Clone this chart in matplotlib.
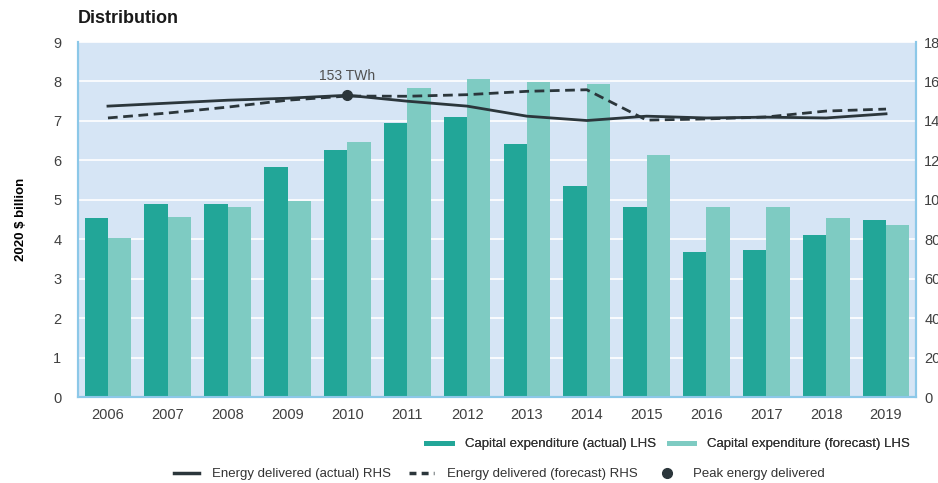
import numpy as np
import matplotlib.pyplot as plt
from matplotlib.lines import Line2D

plt.rcParams['font.family'] = ['Liberation Sans', 'DejaVu Sans']

# data
years = ['2006', '2007', '2008', '2009', '2010', '2011', '2012',
         '2013', '2014', '2015', '2016', '2017', '2018', '2019']
capex_actual = [4.55, 4.89, 4.89, 5.84, 6.27, 6.95, 7.10,
                6.42, 5.36, 4.83, 3.67, 3.72, 4.10, 4.50]
capex_forecast = [4.03, 4.56, 4.82, 4.96, 6.47, 7.83, 8.06,
                  7.98, 7.93, 6.14, 4.83, 4.83, 4.53, 4.35]
energy_actual = [147.5, 149.0, 150.5, 151.5, 153.0, 150.0, 147.5,
                 142.4, 140.2, 142.4, 141.5, 141.9, 141.5, 143.6]
energy_forecast = [141.5, 144.0, 147.0, 150.5, 152.6, 152.5, 153.3,
                   155.0, 155.8, 140.4, 141.0, 142.0, 145.0, 146.0]
peak_year = '2010'
peak_value = 153

c_act = '#22a698'
c_fc = '#7ecbc2'
c_line = '#2b363b'
c_bg = '#d6e5f5'
c_spine = '#8cc8e8'
c_text = '#404040'

fig = plt.figure(figsize=(9.38, 4.83), dpi=100, facecolor='white')
ax = fig.add_axes([0.0832, 0.178, 0.8933, 0.735])
ax2 = ax.twinx()

x = np.arange(len(years))
w = 0.39
ax.bar(x - w/2, capex_actual, width=w, color=c_act, zorder=3)
ax.bar(x + w/2, capex_forecast, width=w, color=c_fc, zorder=3)

ax.set_facecolor(c_bg)
ax.set_xlim(-0.5, len(years) - 0.5)
ax.set_ylim(0, 9)
ax.set_yticks(range(0, 10))
ax.set_xticks(x)
ax.set_xticklabels(years)
ax.grid(axis='y', color='white', linewidth=1.2, zorder=0)
ax.set_axisbelow(True)
ax.tick_params(axis='both', length=0, labelsize=10.5, colors=c_text, pad=8)
ax.tick_params(axis='y', pad=12)
ax.set_ylabel('2020 $ billion', fontsize=9.5, fontweight='bold', labelpad=19)

ax2.plot(x, energy_actual, color=c_line, lw=2, zorder=4)
ax2.plot(x, energy_forecast, color=c_line, lw=2, ls=(0, (3.5, 2)), zorder=4)
px = years.index(peak_year)
ax2.plot(px, peak_value, 'o', color=c_line, ms=7, zorder=5)
ax2.annotate('%d TWh' % peak_value, (px, peak_value), xytext=(0, 9),
             textcoords='offset points', ha='center', va='bottom',
             fontsize=10, color='#505050')
ax2.set_ylim(0, 180)
ax2.set_yticks(range(0, 181, 20))
ax2.tick_params(axis='y', length=0, labelsize=10.5, colors=c_text, pad=6)

for a in (ax, ax2):
    for s in ('left', 'right', 'bottom'):
        a.spines[s].set_color(c_spine)
        a.spines[s].set_linewidth(1.5)
    a.spines['top'].set_visible(False)

fig.text(0.083, 0.962, 'Distribution', fontsize=13, fontweight='bold',
         color='#1a1a1a', va='center')

h1 = [Line2D([], [], color=c_act, lw=3.5), Line2D([], [], color=c_fc, lw=3.5)]
l1 = ['Capital expenditure (actual) LHS', 'Capital expenditure (forecast) LHS']
leg1 = fig.legend(h1, l1, loc='center right', bbox_to_anchor=(0.983, 0.08),
                  ncol=2, frameon=False, fontsize=9.5, handlelength=1.9,
                  handletextpad=1.0, columnspacing=1.0, labelcolor='#333333')
h2 = [Line2D([], [], color=c_line, lw=2.5),
      Line2D([], [], color=c_line, lw=2.5, ls=(0, (2, 1.5))),
      Line2D([], [], color=c_line, marker='o', ls='', ms=7)]
l2 = ['Energy delivered (actual) RHS', 'Energy delivered (forecast) RHS',
      'Peak energy delivered']
fig.legend(h2, l2, loc='center left', bbox_to_anchor=(0.173, 0.018),
           ncol=3, frameon=False, fontsize=9.5, handlelength=1.9,
           handletextpad=1.0, columnspacing=1.3, labelcolor='#333333')
fig.add_artist(leg1)

plt.savefig('out.png', dpi=100)
